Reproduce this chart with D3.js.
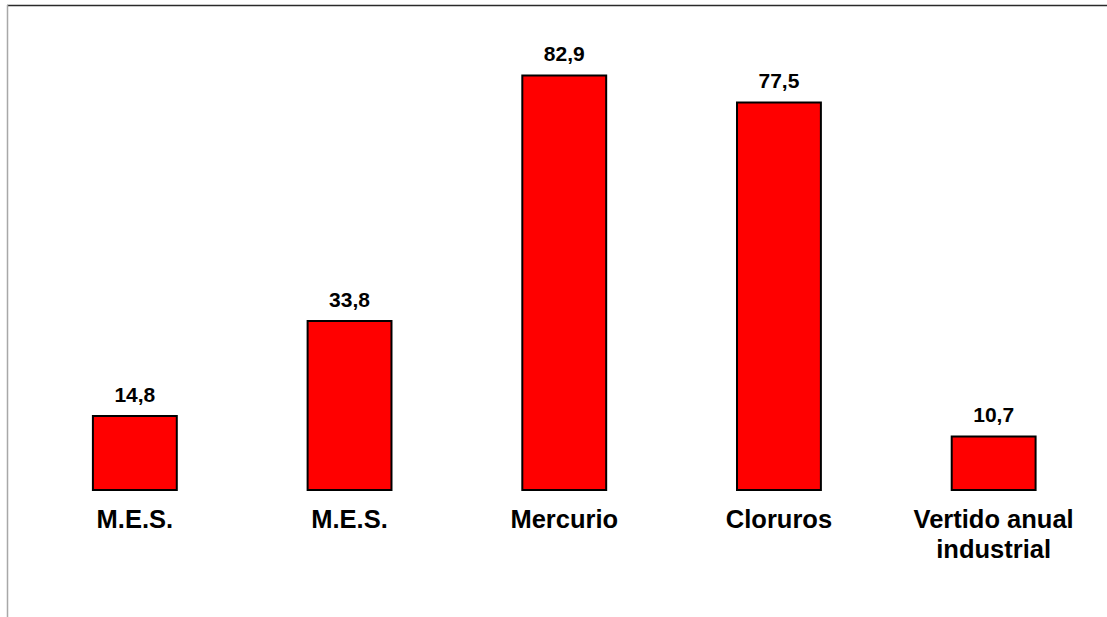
<!DOCTYPE html>
<html>
<head>
<meta charset="utf-8">
<script src="https://cdn.jsdelivr.net/npm/d3@7"></script>
<style>
  html, body { margin: 0; padding: 0; background: #fff; }
  svg { display: block; }
  text { font-family: "Liberation Sans", Arial, sans-serif; font-weight: bold; fill: #000; }
</style>
</head>
<body>
<svg id="chart" width="1107" height="617"></svg>
<script>
// Category labels (multi-line labels split on "\n")
const categories = ["M.E.S.", "M.E.S.", "Mercurio", "Cloruros", "Vertido anual\nindustrial"];
// Values shown above each bar
const values = [14.8, 33.8, 82.9, 77.5, 10.7];

const W = 1107, H = 617;
const svg = d3.select("#chart");

const x = d3.scaleBand()
  .domain(d3.range(categories.length))
  .range([27.5, 1101])
  .paddingInner(0.6)
  .paddingOuter(0.3);

const y = d3.scaleLinear()
  .domain([0, 90])
  .range([490, 40]);

const fmt = v => d3.format(".1f")(v).replace(".", ",");

// Outer frame (top and left edges)
svg.append("line")
  .attr("x1", 7).attr("x2", W).attr("y1", 5.5).attr("y2", 5.5)
  .attr("stroke", "#2a2a2a").attr("stroke-width", 1.4);
svg.append("line")
  .attr("x1", 7.5).attr("x2", 7.5).attr("y1", 5).attr("y2", H)
  .attr("stroke", "#a8a8a8").attr("stroke-width", 1.5);

// Bars
svg.append("g").selectAll("rect")
  .data(values)
  .join("rect")
  .attr("x", (d, i) => x(i) + 1)
  .attr("y", d => y(d))
  .attr("width", x.bandwidth() - 2)
  .attr("height", d => y(0) - y(d))
  .attr("fill", "#ff0000")
  .attr("stroke", "#000")
  .attr("stroke-width", 2);

// Value labels
svg.append("g").selectAll("text")
  .data(values)
  .join("text")
  .attr("x", (d, i) => x(i) + x.bandwidth() / 2)
  .attr("y", d => y(d) - 14.5)
  .attr("text-anchor", "middle")
  .attr("font-size", 21)
  .text(d => fmt(d));

// Category labels
const cat = svg.append("g").selectAll("text")
  .data(categories)
  .join("text")
  .attr("x", (d, i) => x(i) + x.bandwidth() / 2)
  .attr("y", 528)
  .attr("text-anchor", "middle")
  .attr("font-size", 25.5);
cat.each(function(d, i) {
  const t = d3.select(this);
  d.split("\n").forEach((line, k) => {
    t.append("tspan")
      .attr("x", x(i) + x.bandwidth() / 2)
      .attr("dy", k === 0 ? 0 : 30)
      .text(line);
  });
});
</script>
</body>
</html>
